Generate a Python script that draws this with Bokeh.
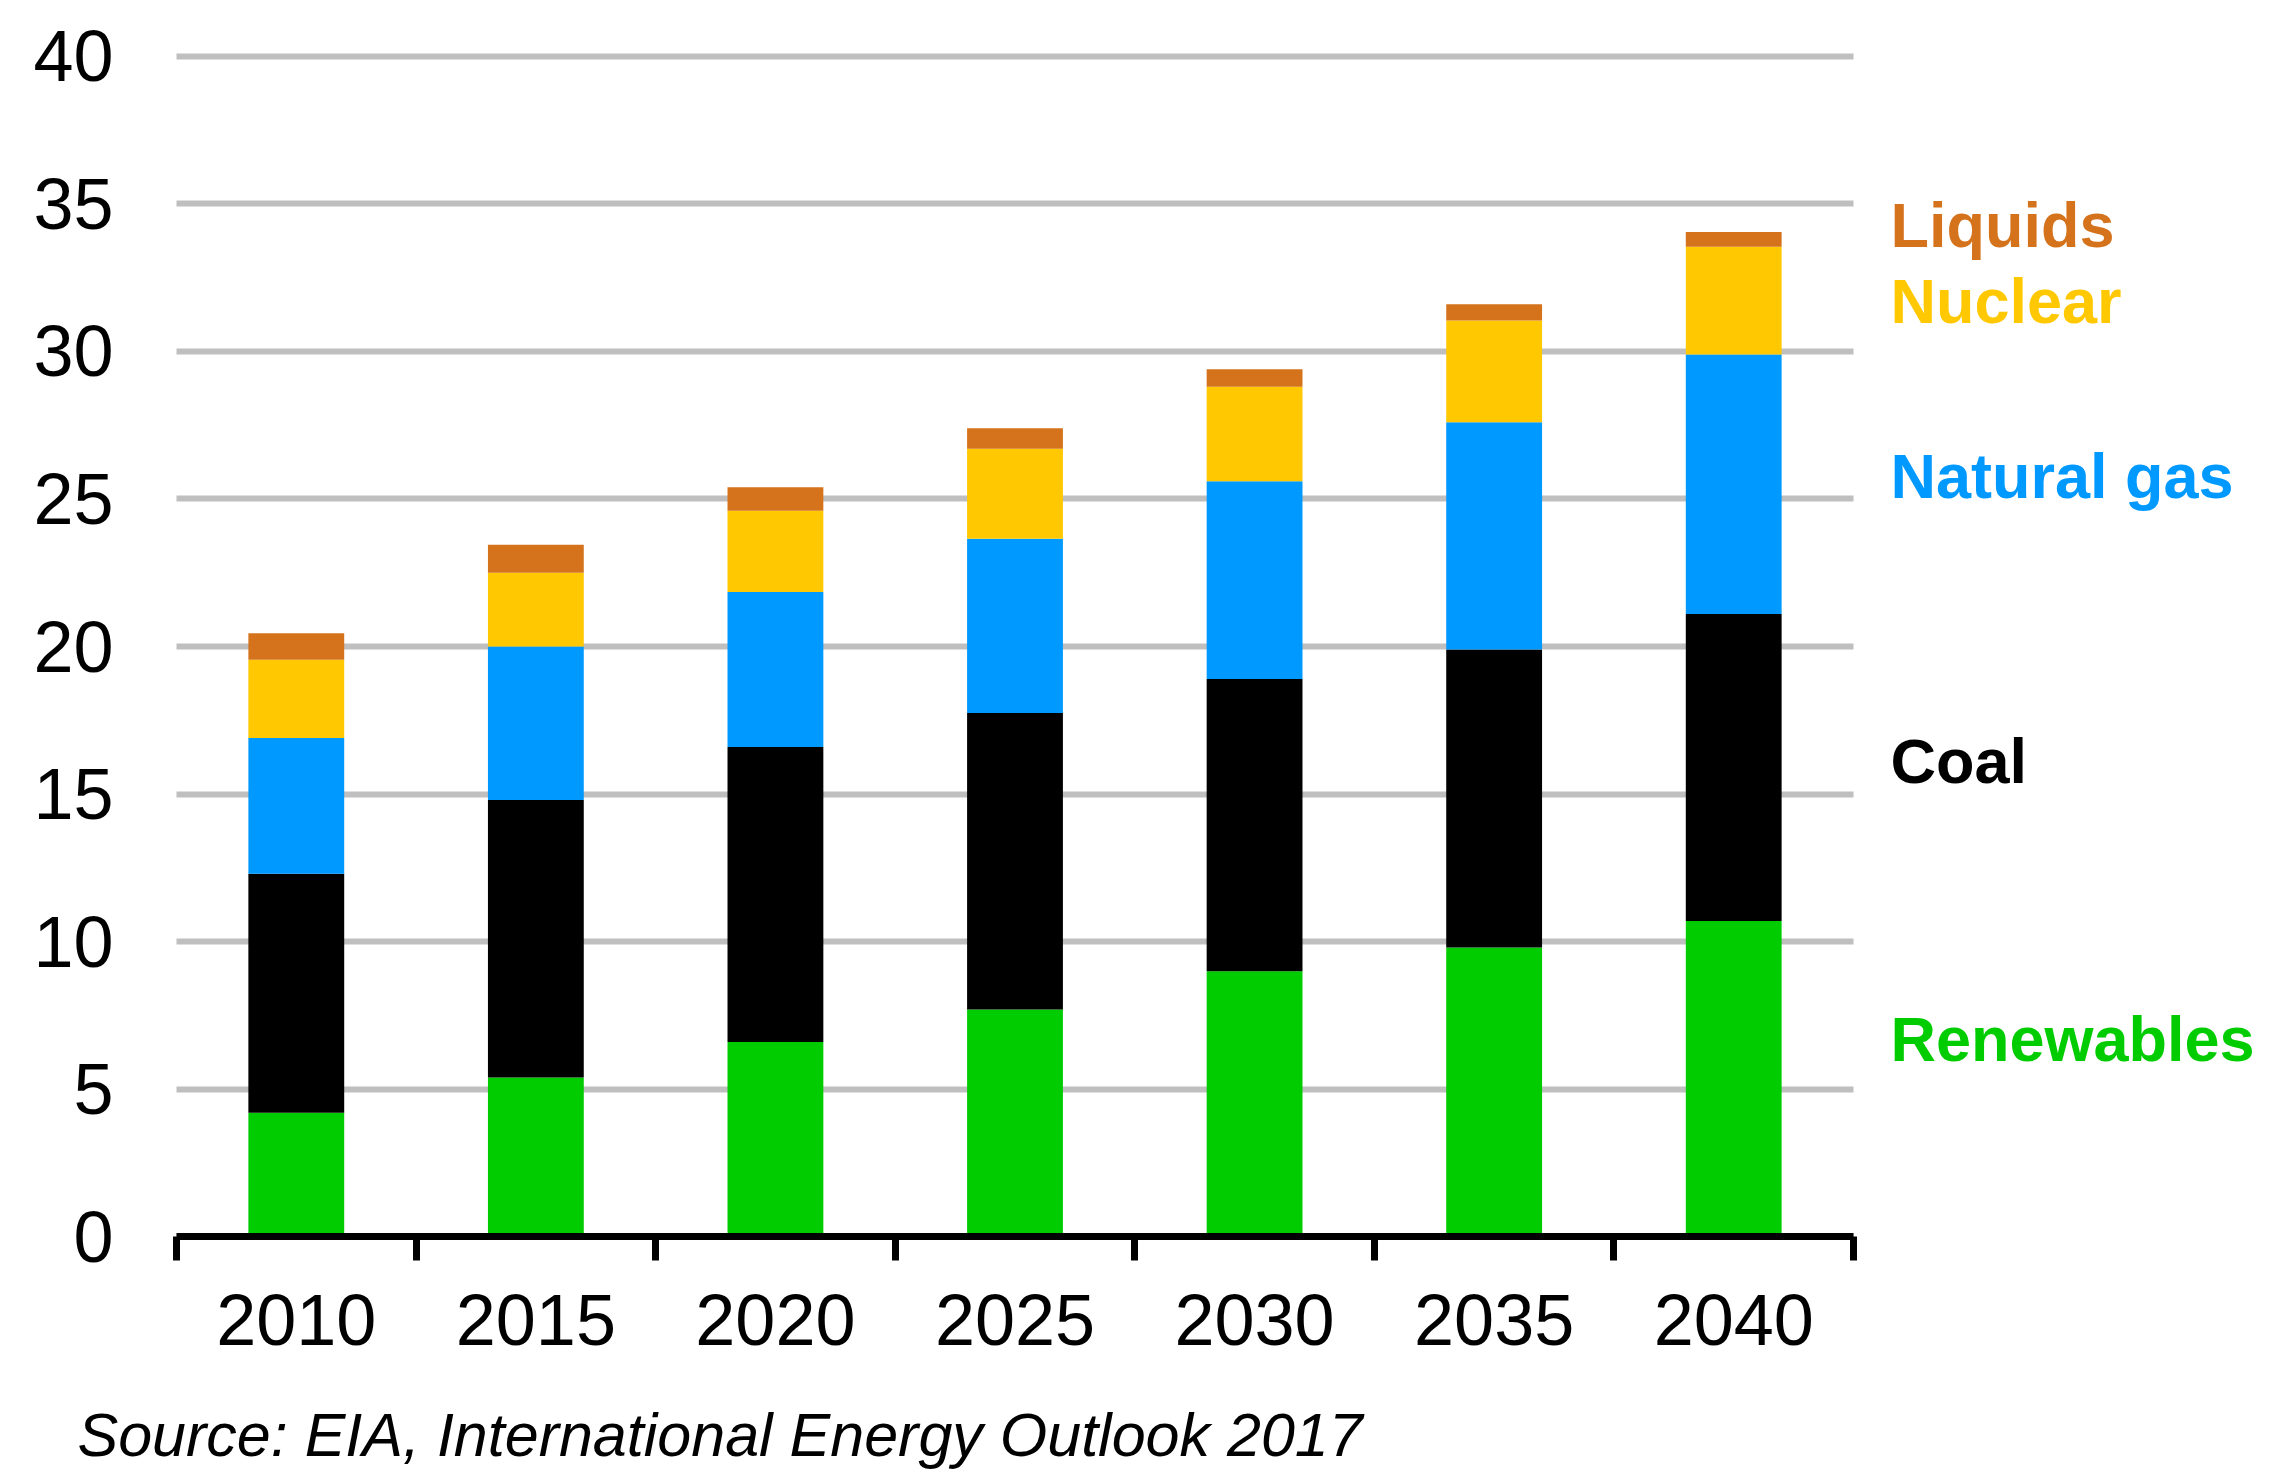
from bokeh.plotting import figure
from bokeh.models import Range1d, FixedTicker, ColumnDataSource, Grid
from bokeh.core.properties import value
from bokeh.embed import file_html
from bokeh.resources import INLINE

# ---- data ----
years = ["2010", "2015", "2020", "2025", "2030", "2035", "2040"]
renewables = [4.2, 5.4, 6.6, 7.7, 9.0, 9.8, 10.7]
coal = [8.1, 9.4, 10.0, 10.05, 9.9, 10.1, 10.4]
natural_gas = [4.6, 5.2, 5.25, 5.9, 6.7, 7.7, 8.8]
nuclear = [2.65, 2.5, 2.75, 3.05, 3.2, 3.45, 3.65]
liquids = [0.9, 0.95, 0.8, 0.7, 0.6, 0.55, 0.5]
series_names = ["Renewables", "Coal", "Natural gas", "Nuclear", "Liquids"]
y_ticks = [0, 5, 10, 15, 20, 25, 30, 35, 40]
source_note = "Source:  EIA, International Energy Outlook 2017"

colors = ["#00CC00", "#000000", "#0099FF", "#FFC800", "#D5731C"]
FONT = "Liberation Sans"

W, H = 2277, 1477
n = len(years)
# plot area in canvas pixels
fx0, fx1 = 176, 1853        # x = 0 .. n
fy0, fy40 = 1236.3, 55.8    # y = 0 and y = 40
sx = (fx1 - fx0) / n
sy = (fy0 - fy40) / 40.0

x_range = Range1d(-fx0 / sx, (W - fx0) / sx)
y_range = Range1d(-(H - fy0) / sy, fy0 / sy)

p = figure(width=W, height=H, output_backend="svg", toolbar_location=None,
           x_range=x_range, y_range=y_range,
           min_border_left=0, min_border_right=0,
           min_border_top=0, min_border_bottom=0)
p.title.visible = False
p.outline_line_color = None
p.background_fill_color = "white"
p.border_fill_color = "white"

xc = [i + 0.5 for i in range(n)]
src = ColumnDataSource(dict(x=xc, Renewables=renewables, Coal=coal,
                            **{"Natural gas": natural_gas},
                            Nuclear=nuclear, Liquids=liquids))
p.vbar_stack(series_names, x="x", width=0.4, color=colors, source=src,
             line_width=0)

# grid
p.xgrid.visible = False
p.ygrid.ticker = FixedTicker(ticks=y_ticks)
if "cross_bounds" in Grid.properties():
    p.ygrid.grid_line_color = "#BFBFBF"
    p.ygrid.grid_line_width = 6
    p.ygrid.cross_bounds = (0, n)
else:
    p.ygrid.visible = False
    p.segment(x0=0, x1=n, y0=y_ticks, y1=y_ticks, line_color="#BFBFBF",
              line_width=6, level="underlay")

# y axis
p.yaxis.fixed_location = 0
p.yaxis.ticker = FixedTicker(ticks=y_ticks)
p.yaxis.bounds = (0, 40)
p.yaxis.axis_line_color = None
p.yaxis.major_tick_line_color = None
p.yaxis.minor_tick_line_color = None
p.yaxis.major_tick_out = 0
p.yaxis.major_tick_in = 0
p.yaxis.major_label_standoff = 63
p.yaxis.major_label_text_font = FONT
p.yaxis.major_label_text_font_size = "72px"
p.yaxis.major_label_text_color = "black"

# x axis
p.xaxis.fixed_location = 0
p.xaxis.bounds = (0, n)
p.xaxis.ticker = FixedTicker(ticks=xc, minor_ticks=list(range(n + 1)))
p.xaxis.major_label_overrides = {c: y for c, y in zip(xc, years)}
p.xaxis.axis_line_color = "black"
p.xaxis.axis_line_width = 7
p.xaxis.major_tick_line_color = None
p.xaxis.major_tick_out = 0
p.xaxis.major_tick_in = 0
p.xaxis.minor_tick_line_color = "black"
p.xaxis.minor_tick_line_width = 7
p.xaxis.minor_tick_out = 24
p.xaxis.minor_tick_in = 0
p.xaxis.major_label_standoff = 34
p.xaxis.major_label_text_font = FONT
p.xaxis.major_label_text_font_size = "72px"
p.xaxis.major_label_text_color = "black"

# right-hand series labels (target baselines in canvas px, corrected for
# the renderer's downward baseline offset)
lab_size = 63
label_baseline_px = {"Liquids": 247, "Nuclear": 323, "Natural gas": 498,
                     "Coal": 783, "Renewables": 1061}
shift = 0.36 * lab_size
lab_src = ColumnDataSource(dict(
    x=[(1890 - fx0) / sx] * len(series_names),
    y=[(fy0 - (label_baseline_px[s] - shift)) / sy for s in series_names],
    text=series_names, color=colors))
p.text(x="x", y="y", text="text", text_color="color", source=lab_src,
       text_font=value(FONT), text_font_size=value(f"{lab_size}px"),
       text_font_style="bold", text_baseline="alphabetic", text_align="left")

# source note
src_size = 61
p.text(x=[(77 - fx0) / sx], y=[(fy0 - (1459 - 0.4 * src_size)) / sy],
       text=[source_note],
       text_font=value(FONT), text_font_size=value(f"{src_size}px"),
       text_font_style="italic", text_color="black",
       text_baseline="alphabetic", text_align="left")

open("out.html", "w").write(file_html(p, INLINE))
